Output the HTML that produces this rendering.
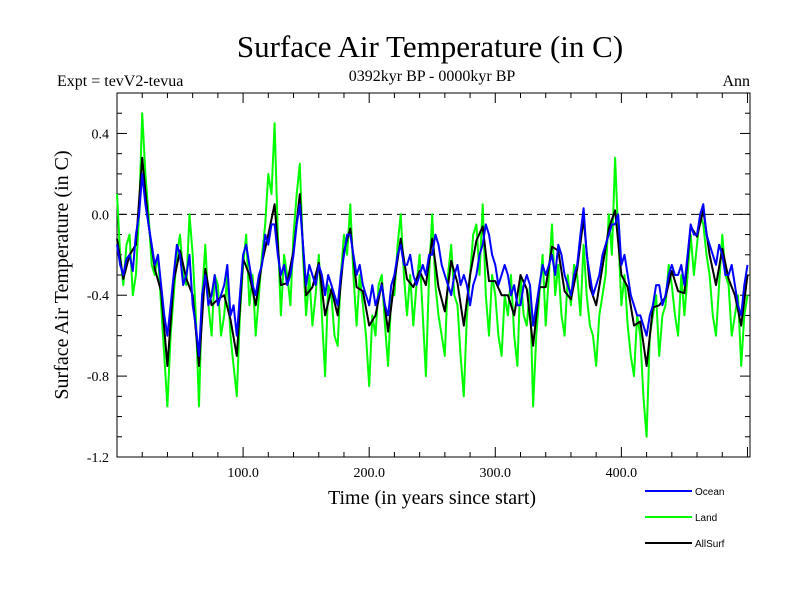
<!DOCTYPE html>
<html><head><meta charset="utf-8"><style>
body{margin:0;background:#fff;}
svg text{font-family:"Liberation Serif",serif;}
</style></head><body>
<svg id="chart" width="800" height="600" xmlns="http://www.w3.org/2000/svg">
<rect width="800" height="600" fill="#fff"/>
<text x="430" y="57" font-size="31" text-anchor="middle">Surface Air Temperature (in C)</text>
<text x="57" y="86" font-size="16">Expt = tevV2-tevua</text>
<text x="432" y="81" font-size="16" text-anchor="middle">0392kyr BP - 0000kyr BP</text>
<text x="750" y="86" font-size="16" text-anchor="end">Ann</text>
<text transform="translate(68,275) rotate(-90)" font-size="20" text-anchor="middle">Surface Air Temperature (in C)</text>
<text x="432" y="504" font-size="20" text-anchor="middle">Time (in years since start)</text>
<g id="axes"></g>
<g id="series"></g>
<g id="legend"></g>
</svg>
<script>
const yearStart = 0;
const yearEnd = 500;
const ocean = [-0.15,-0.25,-0.3,-0.22,-0.2,-0.28,-0.1,0.0,0.2,0.05,-0.05,-0.15,-0.25,-0.2,-0.35,-0.5,-0.6,-0.45,-0.3,-0.15,-0.2,-0.35,-0.3,-0.2,-0.45,-0.55,-0.7,-0.4,-0.3,-0.45,-0.4,-0.3,-0.45,-0.4,-0.35,-0.25,-0.5,-0.45,-0.6,-0.4,-0.2,-0.15,-0.25,-0.35,-0.4,-0.3,-0.25,-0.1,-0.15,-0.05,-0.05,-0.2,-0.3,-0.25,-0.35,-0.3,-0.2,-0.05,0.05,-0.15,-0.35,-0.25,-0.3,-0.35,-0.25,-0.3,-0.4,-0.3,-0.35,-0.4,-0.45,-0.3,-0.2,-0.1,-0.1,-0.2,-0.3,-0.25,-0.35,-0.4,-0.45,-0.35,-0.45,-0.4,-0.35,-0.45,-0.5,-0.35,-0.3,-0.2,-0.15,-0.25,-0.25,-0.2,-0.3,-0.35,-0.3,-0.25,-0.3,-0.2,-0.2,-0.1,-0.15,-0.25,-0.3,-0.35,-0.4,-0.3,-0.25,-0.35,-0.3,-0.35,-0.45,-0.35,-0.3,-0.2,-0.15,-0.05,-0.1,-0.2,-0.25,-0.35,-0.3,-0.25,-0.3,-0.4,-0.35,-0.45,-0.45,-0.35,-0.3,-0.35,-0.55,-0.45,-0.35,-0.25,-0.3,-0.25,-0.2,-0.3,-0.15,-0.2,-0.3,-0.35,-0.4,-0.3,-0.25,-0.1,0.03,-0.2,-0.3,-0.4,-0.35,-0.3,-0.2,-0.15,-0.1,-0.05,-0.05,0.0,-0.25,-0.2,-0.3,-0.4,-0.45,-0.5,-0.5,-0.55,-0.6,-0.5,-0.45,-0.35,-0.35,-0.45,-0.4,-0.3,-0.25,-0.3,-0.3,-0.25,-0.35,-0.2,-0.05,-0.1,-0.1,0.0,0.05,-0.1,-0.15,-0.2,-0.25,-0.15,-0.2,-0.3,-0.3,-0.25,-0.35,-0.45,-0.5,-0.35,-0.25];
const land = [0.1,-0.2,-0.35,-0.15,-0.1,-0.4,-0.3,0.0,0.5,0.2,0.0,-0.25,-0.3,-0.2,-0.45,-0.7,-0.95,-0.6,-0.4,-0.2,-0.1,-0.3,-0.35,0.0,-0.2,-0.5,-0.95,-0.4,-0.15,-0.45,-0.6,-0.3,-0.35,-0.6,-0.5,-0.3,-0.6,-0.75,-0.9,-0.5,-0.25,-0.1,-0.45,-0.3,-0.6,-0.4,-0.2,-0.05,0.2,0.1,0.45,-0.1,-0.5,-0.2,-0.3,-0.45,-0.1,0.1,0.25,-0.2,-0.5,-0.3,-0.55,-0.4,-0.2,-0.5,-0.8,-0.35,-0.4,-0.6,-0.65,-0.3,-0.1,-0.2,0.05,-0.3,-0.55,-0.3,-0.45,-0.6,-0.85,-0.5,-0.6,-0.35,-0.3,-0.55,-0.75,-0.4,-0.4,-0.15,0.0,-0.3,-0.5,-0.3,-0.55,-0.35,-0.2,-0.5,-0.8,-0.3,0.0,-0.35,-0.5,-0.6,-0.7,-0.3,-0.15,-0.4,-0.45,-0.7,-0.9,-0.5,-0.3,-0.1,-0.05,-0.3,0.05,-0.4,-0.6,-0.3,-0.4,-0.6,-0.7,-0.4,-0.5,-0.3,-0.6,-0.75,-0.3,-0.5,-0.55,-0.35,-0.95,-0.6,-0.4,-0.2,-0.55,-0.3,-0.05,-0.4,-0.25,-0.5,-0.6,-0.3,-0.45,-0.25,-0.3,-0.5,-0.15,-0.4,-0.55,-0.6,-0.75,-0.5,-0.4,-0.3,0.0,-0.2,0.28,-0.1,-0.45,-0.3,-0.55,-0.7,-0.8,-0.5,-0.6,-0.9,-1.1,-0.6,-0.5,-0.4,-0.7,-0.5,-0.45,-0.25,-0.35,-0.5,-0.6,-0.3,-0.5,-0.3,-0.1,-0.3,-0.15,0.0,-0.05,-0.2,-0.3,-0.5,-0.6,-0.35,-0.1,-0.3,-0.35,-0.6,-0.5,-0.4,-0.75,-0.5,-0.4];
const allsurf = [-0.12,-0.32,-0.2,-0.15,0.28,-0.05,-0.27,-0.38,-0.75,-0.33,-0.18,-0.32,-0.4,-0.75,-0.27,-0.45,-0.42,-0.4,-0.52,-0.7,-0.22,-0.3,-0.45,-0.24,-0.1,0.05,-0.35,-0.34,-0.18,0.1,-0.4,-0.36,-0.24,-0.5,-0.37,-0.5,-0.18,-0.07,-0.36,-0.38,-0.55,-0.5,-0.34,-0.58,-0.33,-0.12,-0.32,-0.36,-0.28,-0.35,-0.12,-0.36,-0.48,-0.23,-0.34,-0.55,-0.3,-0.13,-0.06,-0.33,-0.33,-0.4,-0.4,-0.5,-0.3,-0.37,-0.65,-0.36,-0.36,-0.16,-0.18,-0.38,-0.42,-0.27,-0.02,-0.36,-0.45,-0.26,-0.07,0.02,-0.3,-0.36,-0.55,-0.53,-0.75,-0.46,-0.45,-0.41,-0.28,-0.38,-0.39,-0.06,-0.11,0.02,-0.2,-0.35,-0.17,-0.32,-0.4,-0.55,-0.3];
const yTickLabels = ["0.4","0.0","-0.4","-0.8","-1.2"];
const xTickLabels = ["100.0","200.0","300.0","400.0"];
const legendNames = ["Ocean","Land","AllSurf"];
const legendColors = ["#0000ff","#00ff00","#000000"];

const NS = "http://www.w3.org/2000/svg";
const L = 117, R = 750, T = 93, B = 457;
const xMin = 0, xMax = 502, yMin = -1.2, yMax = 0.6;
const X = v => L + (v - xMin) / (xMax - xMin) * (R - L);
const Y = v => B - (v - yMin) / (yMax - yMin) * (B - T);
function mk(tag, attrs, parent) {
  const e = document.createElementNS(NS, tag);
  for (const k in attrs) e.setAttribute(k, attrs[k]);
  parent.appendChild(e);
  return e;
}
const axes = document.getElementById('axes');
const frame = mk('rect', {x:L, y:T, width:R-L, height:B-T, fill:'none', stroke:'#000', 'stroke-width':1}, axes);


const zl = mk('line', {x1:L, x2:R, y1:Y(0), y2:Y(0), stroke:'#000', 'stroke-dasharray':'9,5', 'stroke-width':1}, axes);


for (let k = -12; k <= 6; k++) {
  const v = k / 10, y = Y(v), major = (k % 4 === 0);
  const len = major ? 10 : 5;
  mk('line', {x1:L, x2:L+len, y1:y, y2:y, stroke:'#000'}, axes);
  mk('line', {x1:R, x2:R-len, y1:y, y2:y, stroke:'#000'}, axes);
}
yTickLabels.forEach(s => {
  const t = mk('text', {x:L-8, y:Y(parseFloat(s))+5, 'font-size':14, 'text-anchor':'end'}, axes);
  t.textContent = s;
  
  
});
for (let v = 20; v < xMax; v += 20) {
  const x = X(v), len = (v % 100 === 0) ? 10 : 5;
  mk('line', {x1:x, x2:x, y1:B, y2:B-len, stroke:'#000'}, axes);
  mk('line', {x1:x, x2:x, y1:T, y2:T+len, stroke:'#000'}, axes);
}
xTickLabels.forEach(s => {
  const t = mk('text', {x:X(parseFloat(s)), y:B+20, 'font-size':14, 'text-anchor':'middle'}, axes);
  t.textContent = s;
  
  
});
const series = document.getElementById('series');
function drawLine(vals, color, name) {
  const n = vals.length - 1;
  const d = vals.map((v, i) => (i ? 'L' : 'M') + X(yearStart + i * (yearEnd - yearStart) / n).toFixed(1) + ',' + Y(v).toFixed(1)).join('');
  const p = mk('path', {d:d, fill:'none', stroke:color, 'stroke-width':2, 'stroke-linejoin':'round'}, series);
  
  
}
drawLine(land, '#00ff00', 'land-line');
drawLine(allsurf, '#000000', 'allsurf-line');
drawLine(ocean, '#0000ff', 'ocean-line');
const legend = document.getElementById('legend');
legendNames.forEach((n, i) => {
  const y = 491 + i * 26;
  const ln = mk('line', {x1:645, x2:692, y1:y, y2:y, stroke:legendColors[i], 'stroke-width':2}, legend);
  
  
  const t = mk('text', {x:695, y:y+4, 'font-size':10, style:'font-family:"Liberation Sans",sans-serif'}, legend);
  t.textContent = n;
  
  
});
</script>
</body></html>
